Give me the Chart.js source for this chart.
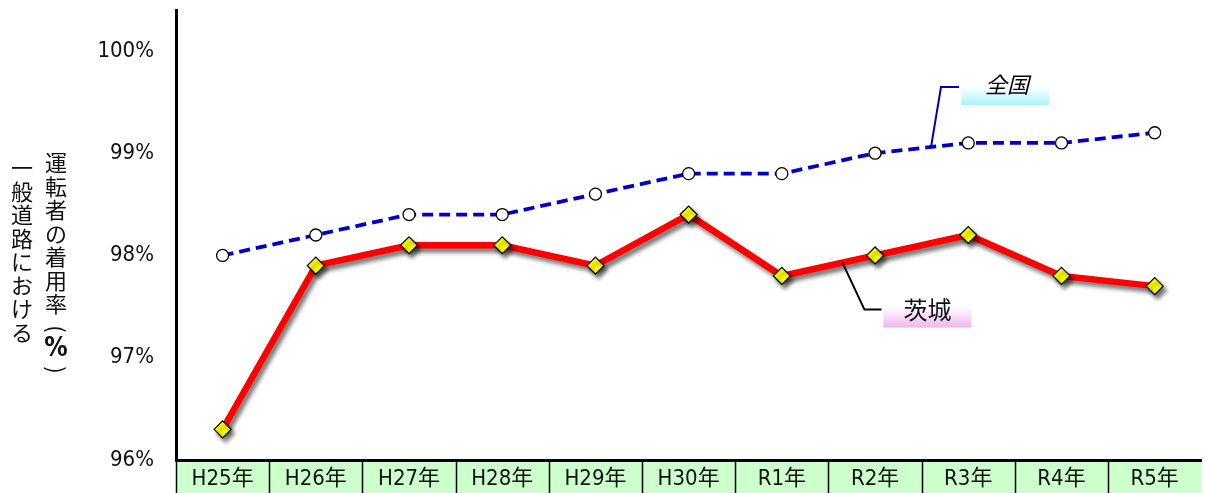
<!DOCTYPE html>
<html lang="ja">
<head>
<meta charset="utf-8">
<script src="https://cdn.jsdelivr.net/npm/chart.js@4.4.0/dist/chart.umd.min.js"></script>
<style>
  html, body { margin: 0; padding: 0; background: #fff; overflow: hidden; }
  #wrap { position: relative; width: 1211px; height: 493px; }
</style>
</head>
<body>
<div id="wrap"><canvas id="chart"></canvas></div>
<script>
// データ
const categories = ['H25年', 'H26年', 'H27年', 'H28年', 'H29年', 'H30年', 'R1年', 'R2年', 'R3年', 'R4年', 'R5年'];
const nationalRates = [98.0, 98.2, 98.4, 98.4, 98.6, 98.8, 98.8, 99.0, 99.1, 99.1, 99.2];
const ibarakiRates = [96.3, 97.9, 98.1, 98.1, 97.9, 98.4, 97.8, 98.0, 98.2, 97.8, 97.7];
const yTicks = [96, 97, 98, 99, 100];
const seriesNames = ['全国', '茨城'];
const axisTitleRight = ['運', '転', '者', 'の', '着', '用', '率', '(', '%', ')'];
const axisTitleLeft = ['一', '般', '道', '路', 'に', 'お', 'け', 'る'];

const narrowFont = '"DejaVu Sans Condensed", "Liberation Sans Narrow", "Noto Sans CJK JP", sans-serif';
const cjkFont = '"Noto Sans CJK JP", sans-serif';

// 茨城の線に影をつける
const shadowPlugin = {
    id: 'shadow',
    beforeDatasetDraw(chart, args) {
        if (args.index !== 1) return;
        const ctx = chart.ctx;
        ctx.save();
        ctx.shadowColor = 'rgba(0,0,0,0.55)';
        ctx.shadowBlur = 4;
        ctx.shadowOffsetX = 3;
        ctx.shadowOffsetY = 4;
    },
    afterDatasetDraw(chart, args) {
        if (args.index !== 1) return;
        chart.ctx.restore();
    }
};

// 軸下の緑の帯と区切り線
const bandPlugin = {
    id: 'band',
    beforeDraw(chart) {
        const { ctx, chartArea, scales } = chart;
        const x = scales.x;
        const half = (x.getPixelForValue(1) - x.getPixelForValue(0)) / 2;
        ctx.save();
        ctx.fillStyle = '#ccffcc';
        ctx.fillRect(chartArea.left, chartArea.bottom, chartArea.right - chartArea.left, chart.height - chartArea.bottom);
        ctx.strokeStyle = '#000';
        ctx.lineWidth = 1.5;
        categories.forEach((c, i) => {
            const px = Math.round(x.getPixelForValue(i) - half) + 0.5;
            ctx.beginPath();
            ctx.moveTo(px, chartArea.bottom);
            ctx.lineTo(px, chart.height);
            ctx.stroke();
        });
        ctx.restore();
    }
};

// 縦書きの軸タイトルと系列ラベル
const labelPlugin = {
    id: 'labels',
    afterDraw(chart) {
        const { ctx, scales } = chart;
        const x = scales.x, y = scales.y;
        ctx.save();
        ctx.fillStyle = '#111';
        ctx.textAlign = 'center';
        ctx.textBaseline = 'middle';
        axisTitleRight.forEach((ch, i) => {
            if (i === 7 || i === 9) {
                // 括弧は90度回転
                ctx.save();
                ctx.translate(56, i === 7 ? 329 : 370);
                ctx.rotate(Math.PI / 2);
                ctx.font = '22px ' + cjkFont;
                ctx.fillText(ch, 0, 0);
                ctx.restore();
            } else if (i === 8) {
                ctx.font = 'bold 26px ' + narrowFont;
                ctx.fillText(ch, 56, 349);
            } else {
                ctx.font = '22px ' + cjkFont;
                ctx.fillText(ch, 56, 163 + i * 23.5);
            }
        });
        ctx.font = '22px ' + cjkFont;
        axisTitleLeft.forEach((ch, i) => {
            ctx.fillText(ch, 22, 168 + i * 23.5);
        });

        // 引き出し線の起点（データ線上）
        const along = (data, i, t) => ({
            x: x.getPixelForValue(i) + t * (x.getPixelForValue(i + 1) - x.getPixelForValue(i)),
            y: y.getPixelForValue(data[i]) + t * (y.getPixelForValue(data[i + 1]) - y.getPixelForValue(data[i]))
        });

        // 全国
        const a = along(nationalRates, 7, 0.6);
        ctx.strokeStyle = '#0000bb';
        ctx.lineWidth = 2;
        ctx.beginPath();
        ctx.moveTo(a.x, a.y);
        ctx.lineTo(a.x + 10, a.y - 60);
        ctx.lineTo(a.x + 28, a.y - 60);
        ctx.stroke();
        let g = ctx.createLinearGradient(0, a.y - 60, 0, a.y - 42);
        g.addColorStop(0, '#ffffff');
        g.addColorStop(1, '#a8f4f8');
        ctx.fillStyle = g;
        ctx.fillRect(a.x + 30, a.y - 60, 88, 18);
        ctx.fillStyle = '#000';
        ctx.font = 'italic 22px ' + cjkFont;
        ctx.fillText(seriesNames[0], a.x + 76, a.y - 62);

        // 茨城
        const b = along(ibarakiRates, 6, 0.65);
        ctx.strokeStyle = '#000';
        ctx.lineWidth = 2;
        ctx.beginPath();
        ctx.moveTo(b.x, b.y);
        ctx.lineTo(b.x + 22, b.y + 47);
        ctx.lineTo(b.x + 39, b.y + 47);
        ctx.stroke();
        g = ctx.createLinearGradient(0, b.y + 44, 0, b.y + 65);
        g.addColorStop(0, '#ffffff');
        g.addColorStop(1, '#f0b4ee');
        ctx.fillStyle = g;
        ctx.fillRect(b.x + 41, b.y + 44, 88, 21);
        ctx.fillStyle = '#111';
        ctx.font = '24px ' + cjkFont;
        ctx.fillText(seriesNames[1], b.x + 85, b.y + 47);
        ctx.restore();
    }
};

new Chart(document.getElementById('chart'), {
    type: 'line',
    data: {
        labels: categories,
        datasets: [
            {
                label: seriesNames[0],
                data: nationalRates,
                borderColor: '#0000cc',
                borderWidth: 3.8,
                borderDash: [11, 6],
                pointStyle: 'circle',
                pointRadius: 6,
                pointBackgroundColor: '#ffffff',
                pointBorderColor: '#000000',
                pointBorderWidth: 1.3,
                tension: 0
            },
            {
                label: seriesNames[1],
                data: ibarakiRates,
                borderColor: '#ff0000',
                borderWidth: 6.5,
                pointStyle: 'rectRot',
                pointRadius: 8.5,
                pointBackgroundColor: '#ffff00',
                pointBorderColor: '#000000',
                pointBorderWidth: 1.2,
                tension: 0
            }
        ]
    },
    options: {
        responsive: true,
        maintainAspectRatio: false,
        animation: false,
        layout: { padding: { top: 10, right: 0, bottom: 0, left: 0 } },
        plugins: {
            legend: { display: false },
            tooltip: { enabled: false }
        },
        scales: {
            x: {
                offset: true,
                grid: { display: false, drawTicks: false },
                border: { display: true, color: '#000', width: 3 },
                ticks: {
                    color: '#111',
                    padding: 6,
                    font: { family: narrowFont, size: 22 },
                    maxRotation: 0,
                    autoSkip: false
                },
                afterFit(scale) {
                    scale.height = 33;
                    scale.paddingLeft = 0;
                    scale.paddingRight = 0;
                }
            },
            y: {
                min: 96,
                max: 100.4,
                afterBuildTicks(scale) { scale.ticks = yTicks.map(v => ({ value: v })); },
                grid: { display: false, drawTicks: false },
                border: { display: true, color: '#000', width: 3 },
                ticks: {
                    color: '#111',
                    padding: 22,
                    font: { family: narrowFont, size: 22 },
                    callback: v => v + '%'
                },
                afterFit(scale) {
                    scale.width = 176;
                    scale.paddingTop = 0;
                    scale.paddingBottom = 0;
                }
            }
        }
    },
    plugins: [shadowPlugin, bandPlugin, labelPlugin]
});
</script>
</body>
</html>
